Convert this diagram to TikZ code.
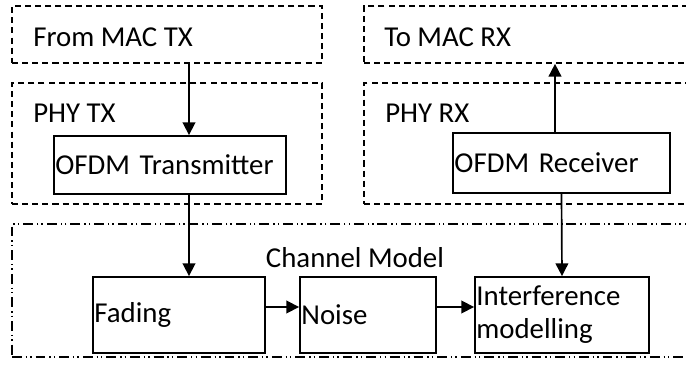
\documentclass[tikz,border=0pt]{standalone}
\usepackage{fontspec}
\setmainfont{Carlito}
\usepackage{tikz}
\usetikzlibrary{arrows.meta}
\usetikzlibrary{calc}

\begin{document}
\begin{tikzpicture}[x=0.025cm, y=-0.025cm,
	font=\fontsize{20.5}{23.4}\selectfont,
	layer/.style={draw, line width=1.2pt, dash pattern=on 4.3pt off 2.9pt, minimum height=#1},
	chan/.style={draw, line width=1.2pt, dash pattern=on 7pt off 2.8pt on 1pt off 2.2pt on 1pt off 2.8pt},
	block/.style={draw, line width=1.3pt, inner sep=1pt, align=left},
	tag/.style={anchor=west, inner sep=0pt}
]
\useasboundingbox (0,0) rectangle (686,367);

% layers
\node[layer=1.425cm, minimum width=7.75cm] (mactx) at (167,34.5) {};
\node[layer=1.425cm, minimum width=8.4cm] (macrx) at (532,34.5) {};
\node[layer=3.025cm, minimum width=7.75cm] (phytx) at (167,143.5) {};
\node[layer=3.025cm, minimum width=8.4cm] (phyrx) at (532,143.5) {};
\node[chan, minimum width=17.2cm, minimum height=3.325cm] (chmodel) at (356,290.5) {};

\node[tag] (mactxl) at (33,37) {From MAC TX};
\node[tag] (macrxl) at (384,37) {To MAC RX};
\node[tag] (phytxl) at (33,113) {PHY TX};
\node[tag] (phyrxl) at (385,113) {PHY RX};
\node[inner sep=0pt] (chmodell) at (355,258) {Channel Model};

% blocks
\node[block, text width=5.73cm, minimum height=1.45cm] (ofdmtx) at (170,165) {OFDM Transmitter};
\node[block, text width=5.35cm, minimum height=1.5cm] (ofdmrx) at (561.5,163) {OFDM Receiver};
\node[block, text width=4.23cm, minimum height=1.9cm] (fading) at (179,315) {Fading};
\node[block, text width=3.33cm, minimum height=1.9cm] (noise) at (368,315) {Noise};
\node[block, text width=4.28cm, minimum height=1.9cm] (intf) at (562,315) {Interference\\modelling};

\coordinate (txline) at (189,0);
\coordinate (rxline) at (555,0);
\coordinate (hline) at (0,307);

\path[-{Triangle[length=9pt,width=9pt]}, line width=1.2pt]
(mactx.south -| txline) edge (ofdmtx.north -| txline)
(ofdmtx.south -| txline) edge (fading.north -| txline)
(ofdmrx.north -| rxline) edge (macrx.south -| rxline)
(ofdmrx.south) edge (intf.north)
(fading.east |- hline) edge (noise.west |- hline)
(noise.east |- hline) edge (intf.west |- hline)
;
\end{tikzpicture}
\end{document}
